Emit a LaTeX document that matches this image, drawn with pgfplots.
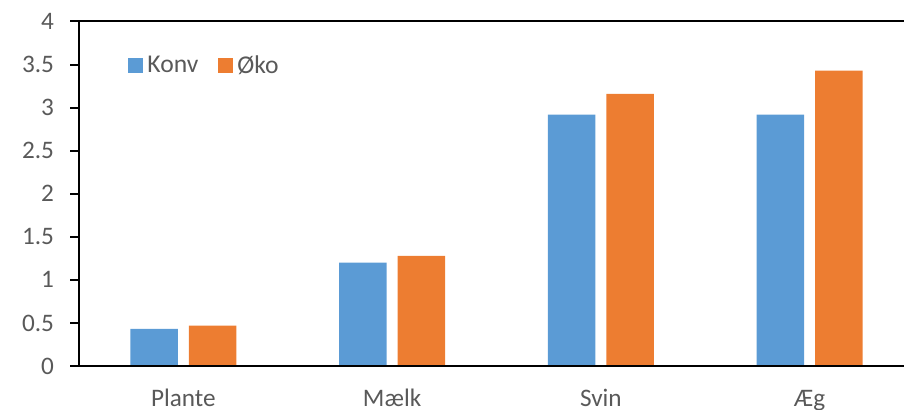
\documentclass[border=0pt]{standalone}
\usepackage{pgfplots}
\pgfplotsset{compat=1.18}
\usepackage{fontspec}
\setmainfont{Carlito}
\definecolor{konv}{HTML}{5B9BD5}
\definecolor{oko}{HTML}{ED7D31}
\definecolor{txt}{HTML}{595959}
\begin{document}
\begin{tikzpicture}
\useasboundingbox (0,0) rectangle (452pt,205pt);
\clip (0,0) rectangle (452pt,205pt);
\begin{axis}[
  at={(39.5pt,22pt)}, anchor=south west,
  scale only axis, width=417.5pt, height=172.25pt,
  xmin=-0.5, xmax=3.5, ymin=0, ymax=4,
  axis line style={draw=none},
  xtick={0,1,2,3}, xticklabels={Plante,Mælk,Svin,Æg},
  ytick={0,0.5,...,4},
  ytick pos=left, xtick pos=bottom,
  xtick align=inside, ytick align=outside,
  major tick length=4.5pt,
  xtick style={draw=none},
  ytick style={draw=black, line width=1pt},
  tick label style={font=\fontsize{12.6pt}{14pt}\selectfont, text=txt},
  /pgf/number format/assume math mode=true,
  xticklabel style={anchor=base, yshift=-16pt},
  yticklabel style={anchor=east, xshift=-4.5pt},
  ybar, bar width=23.75pt,
  legend style={at={(0.0587,0.871)}, anchor=west, draw=none, fill=none,
    inner sep=0pt, legend columns=2,
    font=\fontsize{12.8pt}{14pt}\selectfont, text=txt,
    nodes={inner xsep=2pt},
    /tikz/every even column/.append style={column sep=8pt}},
  legend image code/.code={\fill[#1] (0pt,-3.75pt) rectangle (7.5pt,3.75pt);},
  clip=false,
]
\addplot[fill=konv, draw=none, bar shift=-14.625pt] coordinates {(0,0.43) (1,1.20) (2,2.92) (3,2.92)};
\addplot[fill=oko, draw=none, bar shift=14.625pt] coordinates {(0,0.47) (1,1.28) (2,3.16) (3,3.43)};
\legend{Konv,Øko}
% frame: left, bottom and top edges of the plot area
\draw[black, line width=1pt, line cap=rect]
  (axis cs:3.5,4) -- (axis cs:-0.5,4) -- (axis cs:-0.5,0) -- (axis cs:3.5,0);
\end{axis}
\end{tikzpicture}
\end{document}
